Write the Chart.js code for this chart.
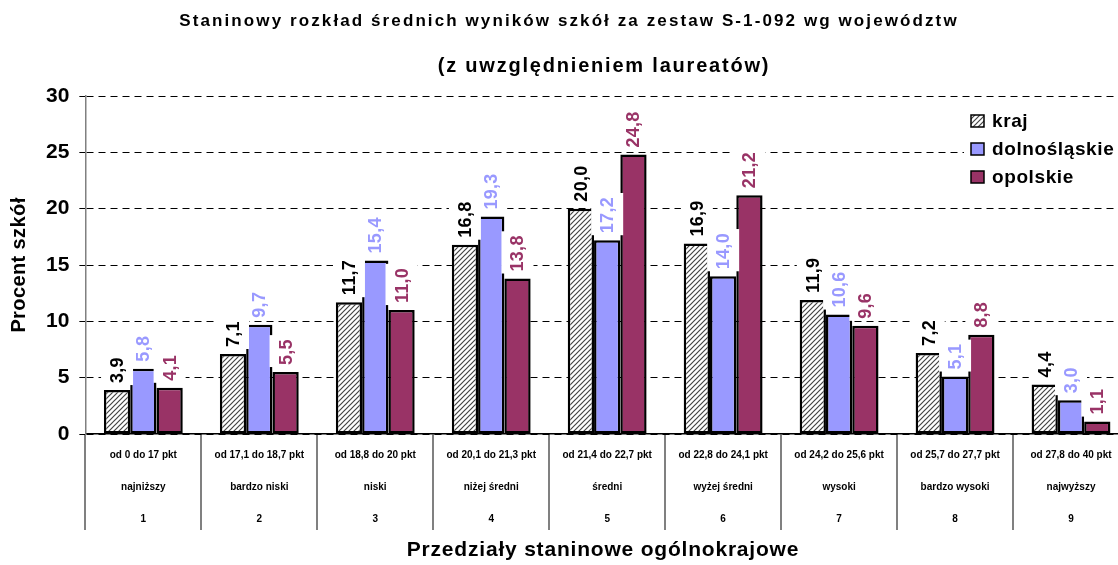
<!DOCTYPE html>
<html>
<head>
<meta charset="utf-8">
<script src="https://cdn.jsdelivr.net/npm/chart.js@4.4.1/dist/chart.umd.min.js"></script>
<style>
  html, body { margin: 0; padding: 0; background: #fff; overflow: hidden; }
  #wrap { position: relative; width: 1140px; height: 565px; }
</style>
</head>
<body>
<div id="wrap"><canvas id="stanineChart"></canvas></div>
<script>
// --- data ---
const rangeLabels = ['od 0 do 17 pkt', 'od 17,1 do 18,7 pkt', 'od 18,8 do 20 pkt', 'od 20,1 do 21,3 pkt',
  'od 21,4 do 22,7 pkt', 'od 22,8 do 24,1 pkt', 'od 24,2 do 25,6 pkt', 'od 25,7 do 27,7 pkt', 'od 27,8 do 40 pkt'];
const levelLabels = ['najniższy', 'bardzo niski', 'niski', 'niżej średni', 'średni', 'wyżej średni',
  'wysoki', 'bardzo wysoki', 'najwyższy'];
const stanineNumbers = ['1', '2', '3', '4', '5', '6', '7', '8', '9'];

const seriesNames = ['kraj', 'dolnośląskie', 'opolskie'];
const krajValues = [3.9, 7.1, 11.7, 16.8, 20.0, 16.9, 11.9, 7.2, 4.4];
const dolnoslaskieValues = [5.8, 9.7, 15.4, 19.3, 17.2, 14.0, 10.6, 5.1, 3.0];
const opolskieValues = [4.1, 5.5, 11.0, 13.8, 24.8, 21.2, 9.6, 8.8, 1.1];

const titleLines = ['Staninowy rozkład średnich wyników szkół za zestaw S-1-092 wg województw',
  '(z uwzględnieniem laureatów)'];
const yAxisTitle = 'Procent szkół';
const xAxisTitle = 'Przedziały staninowe ogólnokrajowe';

const FONT = '"Liberation Sans", Arial, sans-serif';
const BLUE = '#9999FF';
const PLUM = '#993366';

// diagonal hatch used for "kraj"
const makeHatch = () => {
    const c = document.createElement('canvas');
    c.width = 5; c.height = 5;
    const g = c.getContext('2d');
    g.fillStyle = '#fff';
    g.fillRect(0, 0, 5, 5);
    g.strokeStyle = '#444';
    g.lineWidth = 1.2;
    g.beginPath();
    g.moveTo(-1, 6); g.lineTo(6, -1);
    g.moveTo(-1, 1); g.lineTo(1, -1);
    g.moveTo(4, 6); g.lineTo(6, 4);
    g.stroke();
    return g.createPattern(c, 'repeat');
};
const hatch = makeHatch();

const labelColors = ['#000000', BLUE, PLUM];
const fmt = (v) => v.toFixed(1).replace('.', ',');

// value labels rotated, on a white box (like the original export)
const valueLabels = {
    id: 'valueLabels',
    afterDatasetsDraw(chart) {
        const ctx = chart.ctx;
        ctx.save();
        ctx.font = 'bold 18px ' + FONT;
        ctx.letterSpacing = '0.3px';
        chart.data.datasets.forEach((ds, i) => {
            const meta = chart.getDatasetMeta(i);
            meta.data.forEach((bar, j) => {
                const text = fmt(ds.data[j]);
                const w = ctx.measureText(text).width;
                const bottom = bar.y - 7;
                ctx.fillStyle = '#fff';
                ctx.fillRect(bar.x - 16, bottom - w - 4, 32, w + 6);
                ctx.save();
                ctx.translate(bar.x, bottom);
                ctx.rotate(-Math.PI / 2);
                ctx.fillStyle = labelColors[i];
                ctx.textAlign = 'left';
                ctx.textBaseline = 'middle';
                ctx.fillText(text, 0, 1);
                ctx.restore();
            });
        });
        ctx.restore();
    }
};

// titles, axis titles and legend
const decor = {
    id: 'decor',
    afterDraw(chart) {
        const ctx = chart.ctx;
        const area = chart.chartArea;
        ctx.save();
        ctx.fillStyle = '#000';
        ctx.textAlign = 'center';
        ctx.textBaseline = 'middle';

        ctx.font = 'bold 17px ' + FONT;
        ctx.letterSpacing = '2.1px';
        ctx.fillText(titleLines[0], 569, 21);
        ctx.font = 'bold 20px ' + FONT;
        ctx.letterSpacing = '1.8px';
        ctx.fillText(titleLines[1], 604, 66);

        ctx.font = 'bold 21px ' + FONT;
        ctx.letterSpacing = '0.8px';
        ctx.fillText(xAxisTitle, 603, 550);

        ctx.save();
        ctx.translate(19, (area.top + area.bottom) / 2);
        ctx.rotate(-Math.PI / 2);
        ctx.font = 'bold 20px ' + FONT;
        ctx.letterSpacing = '0.4px';
        ctx.fillText(yAxisTitle, 0, 0);
        ctx.restore();

        // legend
        ctx.fillStyle = '#fff';
        ctx.fillRect(964, 106, 160, 88);
        ctx.font = 'bold 19px ' + FONT;
        ctx.letterSpacing = '0.6px';
        ctx.textAlign = 'left';
        chart.data.datasets.forEach((ds, i) => {
            const cy = 121 + i * 28;
            ctx.fillStyle = ds.backgroundColor;
            ctx.fillRect(971, cy - 6, 13, 12);
            ctx.strokeStyle = '#000';
            ctx.lineWidth = 1.5;
            ctx.strokeRect(971, cy - 6, 13, 12);
            ctx.fillStyle = '#000';
            ctx.fillText(ds.label, 992, cy + 1);
        });
        ctx.restore();
    }
};

new Chart(document.getElementById('stanineChart').getContext('2d'), {
    type: 'bar',
    data: {
        labels: rangeLabels.map((r, i) => [r, levelLabels[i], stanineNumbers[i]]),
        datasets: [
            { label: seriesNames[0], data: krajValues, backgroundColor: hatch },
            { label: seriesNames[1], data: dolnoslaskieValues, backgroundColor: BLUE },
            { label: seriesNames[2], data: opolskieValues, backgroundColor: PLUM }
        ]
    },
    options: {
        responsive: true,
        maintainAspectRatio: false,
        animation: false,
        datasets: {
            bar: {
                borderColor: '#000',
                borderWidth: 2.5,
                borderSkipped: false,
                barPercentage: 1,
                categoryPercentage: 0.68
            }
        },
        layout: { padding: { top: 96, left: 36, right: 11, bottom: 30 } },
        scales: {
            x: {
                grid: {
                    offset: true,
                    drawOnChartArea: false,
                    drawTicks: true,
                    tickLength: 96,
                    color: '#808080',
                    lineWidth: 2
                },
                border: { color: '#000', width: 1.5 },
                ticks: {
                    color: '#000',
                    padding: -91,
                    maxRotation: 0,
                    autoSkip: false,
                    font: { family: FONT, size: 10, weight: 'bold', lineHeight: 3.2 }
                },
                // negative padding is counted twice by fit(), so pin the height
                afterFit: (scale) => { scale.height = 101; }
            },
            y: {
                min: 0,
                max: 30,
                grid: { color: '#000', lineWidth: 1, tickLength: 6 },
                border: { color: '#808080', width: 1.5, dash: [7, 5] },
                ticks: {
                    stepSize: 5,
                    color: '#000',
                    padding: 10,
                    font: { family: FONT, size: 21, weight: 'bold' }
                }
            }
        },
        plugins: {
            legend: { display: false },
            tooltip: { enabled: false },
            title: { display: false }
        }
    },
    plugins: [valueLabels, decor]
});
</script>
</body>
</html>
